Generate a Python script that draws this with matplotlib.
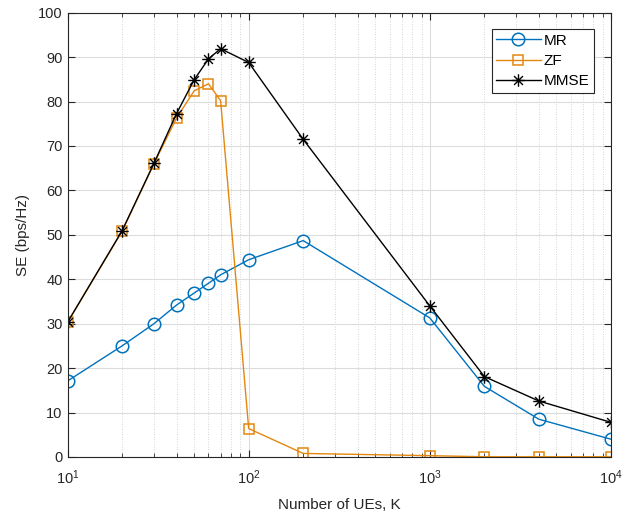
import matplotlib
matplotlib.use("Agg")
import matplotlib.pyplot as plt
from matplotlib.ticker import LogLocator, NullFormatter
from matplotlib.path import Path

plt.rcParams['font.family'] = ['Liberation Sans', 'DejaVu Sans']
plt.rcParams['font.size'] = 10
plt.rcParams['mathtext.fontset'] = 'custom'
plt.rcParams['mathtext.rm'] = 'Liberation Sans'
plt.rcParams['mathtext.it'] = 'Liberation Sans:italic'
plt.rcParams['mathtext.bf'] = 'Liberation Sans:bold'

K = [10, 20, 30, 40, 50, 60, 70, 100, 200, 1000, 2000, 4000, 10000]
se_mr = [17.1, 25.0, 30.0, 34.2, 36.9, 39.1, 41.0, 44.4, 48.7, 31.3, 15.9, 8.5, 4.0]
se_zf = [30.3, 50.8, 66.0, 76.3, 82.4, 84.0, 80.2, 6.4, 0.8, 0.3, 0.05, 0.05, 0.05]
se_mmse = [30.3, 50.9, 66.1, 77.3, 84.9, 89.6, 91.9, 88.8, 71.5, 34.0, 18.1, 12.6, 7.8]

c_mr = '#0072BD'
c_zf = '#E3870E'
c_mmse = '#000000'

# MATLAB-style asterisk marker (+ and x combined)
d = 0.7071
ast_verts = [(-1, 0), (1, 0), (0, -1), (0, 1), (-d, -d), (d, d), (-d, d), (d, -d)]
ast_codes = [Path.MOVETO, Path.LINETO] * 4
asterisk = Path(ast_verts, ast_codes)

fig = plt.figure(figsize=(6.24, 5.16), dpi=100)
ax = fig.add_axes([67.5/624, 59/516, (611-67.5)/624, (457-12.7)/516])

ax.plot(K, se_mr, '-', marker='o', color=c_mr, lw=1.0, ms=9, mfc='none', mew=1.1, label='MR')
ax.plot(K, se_zf, '-', marker='s', color=c_zf, lw=1.0, ms=7, mfc='none', mew=1.1, label='ZF')
ax.plot(K, se_mmse, '-', marker=asterisk, color=c_mmse, lw=1.0, ms=9, mfc='none', mew=1.0, label='MMSE')

ax.set_xscale('log')
ax.set_xlim(10, 10000)
ax.set_ylim(0, 100)
ax.set_yticks(range(0, 101, 10))
ax.xaxis.set_minor_locator(LogLocator(base=10, subs=range(2, 10)))
ax.xaxis.set_minor_formatter(NullFormatter())

ax.grid(True, which='major', color='#dcdcdc', lw=0.8)
ax.grid(True, which='minor', axis='x', color='#c8c8c8', lw=0.6, ls=(0, (1, 2)))
ax.set_axisbelow(True)
ax.tick_params(which='both', direction='in', top=True, right=True, colors='#262626', labelcolor='#262626',
               labelsize=10.5)
ax.tick_params(which='major', length=5)
ax.tick_params(which='minor', length=3)
ax.tick_params(axis='x', which='major', pad=8)
for s in ax.spines.values():
    s.set_color('#262626')
    s.set_linewidth(0.8)

ax.set_xlabel('Number of UEs, K', color='#262626', fontsize=11, labelpad=8)
ax.set_ylabel('SE (bps/Hz)', color='#262626', fontsize=11, labelpad=6)

leg = ax.legend(loc='upper right', bbox_to_anchor=(594/624*1.0, 1.0), fancybox=False,
                bbox_transform=fig.transFigure,
                edgecolor='#262626', framealpha=1, handlelength=2.9, borderpad=0.3,
                labelspacing=0.42, handletextpad=0.2, borderaxespad=0, fontsize=11)
leg.set_bbox_to_anchor((594/624, (516-29)/516), transform=fig.transFigure)
leg.get_frame().set_linewidth(0.8)

fig.savefig('out.png', dpi=100)
